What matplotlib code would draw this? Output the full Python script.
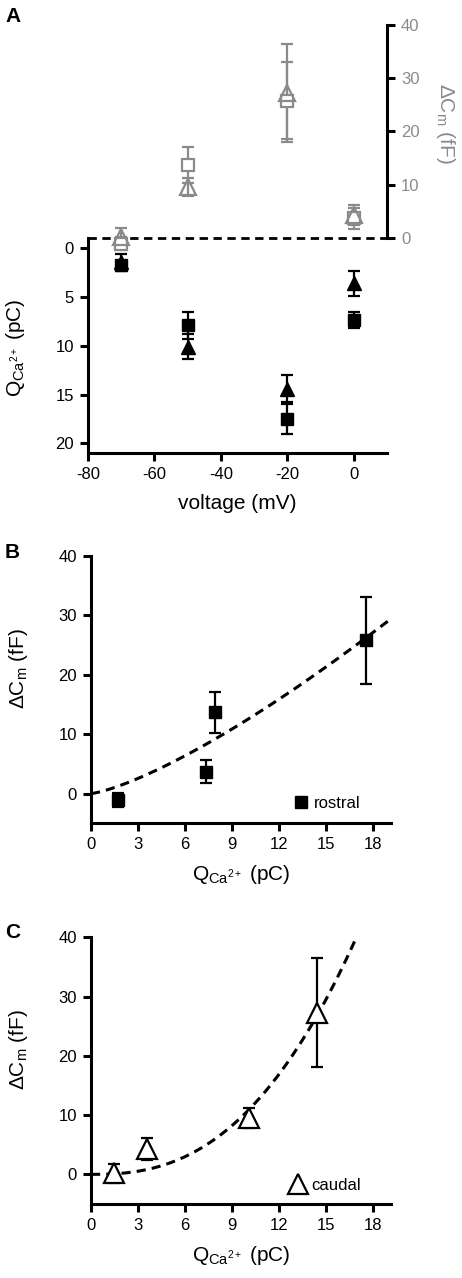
import numpy as np
import matplotlib
matplotlib.use("Agg")
import matplotlib.pyplot as plt

plt.rcParams['font.family'] = ['Liberation Sans', 'DejaVu Sans']
plt.rcParams['mathtext.fontset'] = 'custom'
plt.rcParams['mathtext.rm'] = 'Liberation Sans'
plt.rcParams['mathtext.it'] = 'Liberation Sans:italic'
plt.rcParams['axes.unicode_minus'] = False

# ---- data ----
voltage = [-70, -50, -20, 0]
q_rostral = [1.7, 7.9, 17.5, 7.35]
q_rostral_err = [0.35, 1.4, 1.55, 0.85]
q_caudal = [1.45, 10.1, 14.4, 3.6]
q_caudal_err = [0.9, 1.3, 1.4, 1.3]
cm_rostral = [-1.1, 13.7, 25.8, 3.7]
cm_rostral_err = [1.2, 3.45, 7.3, 2.0]
cm_caudal = [0.2, 9.5, 27.3, 4.3]
cm_caudal_err = [1.6, 1.7, 9.2, 1.8]
# power-law fits  Cm = a * Q**b
fit_rostral = (0.598, 1.32)
fit_caudal = (0.034, 2.5)

GRAY = '#8a8a8a'
W, H = 462, 1278
fig = plt.figure(figsize=(W / 100, H / 100), dpi=100)

def rect(x0, x1, ytop, ybot):
    return [x0 / W, 1 - ybot / H, (x1 - x0) / W, (ybot - ytop) / H]

TICK = 12
LAB = 15
LW = 2.2

def style(ax):
    ax.tick_params(axis='both', which='major', direction='out', length=6,
                   width=LW, labelsize=TICK, pad=4)
    for s in ax.spines.values():
        s.set_linewidth(LW)

# ---- Panel A ----
axA = fig.add_axes(rect(88, 387, 25, 453))
style(axA)
axA.set_xlim(-80, 10)
axA.set_ylim(21.0, -22.9)
axA.spines['top'].set_visible(False)
axA.spines['right'].set_visible(False)
axA.spines['left'].set_bounds(-1.03, 21.0)
axA.set_yticks([0, 5, 10, 15, 20])
axA.set_xticks([-80, -60, -40, -20, 0])
axA.set_xlabel('voltage (mV)', fontsize=LAB, labelpad=9)
axA.set_ylabel(r'Q$_{\mathregular{Ca}^{2+}}$ (pC)', fontsize=LAB)
axA.yaxis.set_label_coords(-0.205, 0.245)
axA.errorbar(voltage, q_rostral, yerr=q_rostral_err, fmt='s', color='black',
             ms=8, capsize=4, elinewidth=1.6, capthick=1.6, zorder=3, clip_on=False)
axA.errorbar(voltage, q_caudal, yerr=q_caudal_err, fmt='^', color='black',
             ms=10, capsize=4, elinewidth=1.6, capthick=1.6, zorder=3, clip_on=False)

axA2 = axA.twinx()
style(axA2)
axA2.set_ylim(-40.4, 40)
for k in ['top', 'left', 'bottom']:
    axA2.spines[k].set_visible(False)
axA2.spines['right'].set_bounds(0, 40)
axA2.set_yticks([0, 10, 20, 30, 40])
axA2.tick_params(axis='y', labelcolor=GRAY)
axA2.axhline(0, color='black', ls=(0, (3, 2)), lw=2, zorder=1)
axA2.errorbar(voltage, cm_rostral, yerr=cm_rostral_err, fmt='s', color=GRAY,
              mfc='white', mec=GRAY, mew=1.6, ms=8, capsize=4, elinewidth=1.6,
              capthick=1.6, zorder=3, clip_on=False)
axA2.errorbar(voltage, cm_caudal, yerr=cm_caudal_err, fmt='^', color=GRAY,
              mfc='none', mec=GRAY, mew=1.6, ms=12, capsize=4, elinewidth=1.6,
              capthick=1.6, zorder=3, clip_on=False)
axA2.set_ylabel(r'$\Delta$C$_\mathregular{m}$ (fF)', fontsize=LAB, color=GRAY,
                rotation=270)
axA2.yaxis.set_label_coords(1.235, 0.77)

fig.text(5 / W, 1 - 17 / H, 'A', fontsize=15, fontweight='bold', va='center', ha='left')

# ---- Panels B and C ----
def scatter_panel(r, q, cm, cm_err, fit, marker, label, ly):
    ax = fig.add_axes(r)
    style(ax)
    ax.set_xlim(0, 19.1)
    ax.set_ylim(-5, 40)
    ax.spines['top'].set_visible(False)
    ax.spines['right'].set_visible(False)
    ax.set_xticks([0, 3, 6, 9, 12, 15, 18])
    ax.set_yticks([0, 10, 20, 30, 40])
    a, b = fit
    xmax = min(19.1, (40 / a) ** (1 / b))
    xf = np.linspace(0, xmax, 200)
    ax.plot(xf, a * xf ** b, color='black', ls=(0, (3, 2)), lw=2.2, zorder=2)
    if marker == 's':
        h = ax.errorbar(q, cm, yerr=cm_err, fmt='s', color='black', ms=9,
                        capsize=4, elinewidth=1.6, capthick=1.6, zorder=3, label=label)
    else:
        h = ax.errorbar(q, cm, yerr=cm_err, fmt='^', color='black', mfc='white',
                        mec='black', mew=1.6, ms=14, capsize=4, elinewidth=1.6,
                        capthick=1.6, zorder=3, label=label)
    ax.legend(handles=[h[0]], labels=[label], loc='center right',
              bbox_to_anchor=(0.9, ly), frameon=False, fontsize=TICK,
              handlelength=0.9, handletextpad=0.35, borderpad=0, borderaxespad=0)
    ax.set_xlabel(r'Q$_{\mathregular{Ca}^{2+}}$ (pC)', fontsize=LAB, labelpad=8)
    ax.set_ylabel(r'$\Delta$C$_\mathregular{m}$ (fF)', fontsize=LAB)
    ax.yaxis.set_label_coords(-0.205, 0.58)
    return ax

axB = scatter_panel(rect(91, 390.7, 555.7, 823.3), q_rostral,
                    cm_rostral, cm_rostral_err, fit_rostral, 's', 'rostral', 0.075)
fig.text(5 / W, 1 - 552 / H, 'B', fontsize=15, fontweight='bold', va='center', ha='left')
axC = scatter_panel(rect(91, 390.7, 937.3, 1204), q_caudal,
                    cm_caudal, cm_caudal_err, fit_caudal, '^', 'caudal', 0.07)
fig.text(5 / W, 1 - 932 / H, 'C', fontsize=15, fontweight='bold', va='center', ha='left')

fig.savefig('out.png', dpi=100)
